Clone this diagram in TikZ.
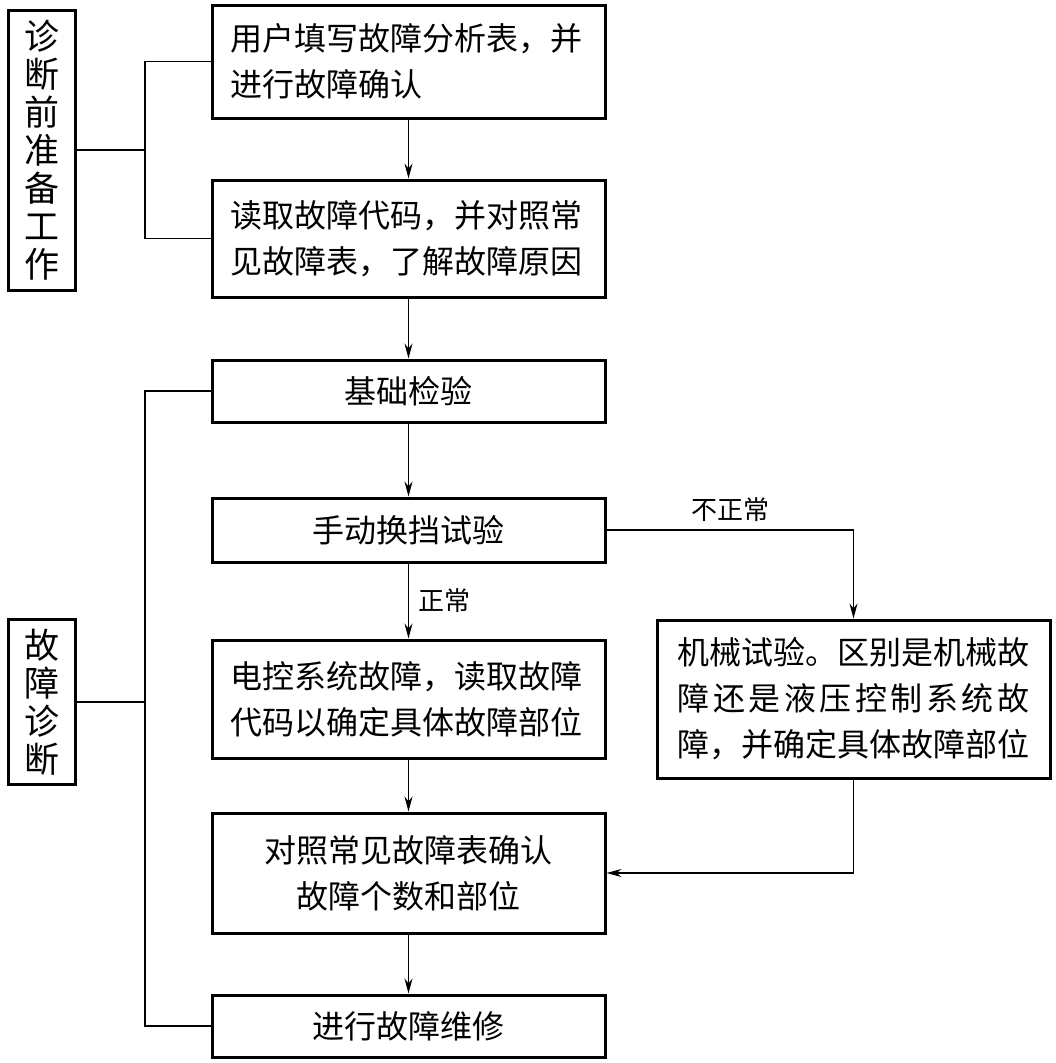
\documentclass[tikz,border=0pt]{standalone}
\usepackage{fontspec}
\setmainfont{Noto Sans CJK SC}
\usepackage{tikz}
\usetikzlibrary{arrows, arrows.meta, positioning}
\tikzstyle{arrow} = [line width=1.3pt,->,>={Stealth[length=15pt,width=8pt]}]

\begin{document}
\begin{tikzpicture}[x=1pt, y=-1pt,
				box/.style= {draw, line width=3pt, inner sep=0pt, minimum width=393pt, align=left, font={\fontsize{32}{46}\selectfont}},
				side/.style= {draw, line width=3pt, inner sep=0pt, minimum width=67pt, align=center, font={\fontsize{35}{38}\selectfont}},
				lab/.style= {font={\fontsize{26}{30}\selectfont}},
				link/.style= {line width=1.3pt}
			]
			\useasboundingbox (0,0) rectangle (1056,1063);
			% left column
			\node (pre) [side, minimum height=280pt] at (41.5,150) {诊\\断\\前\\准\\备\\工\\作};
			\node (diag) [side, minimum height=165pt] at (41.5,702) {故\\障\\诊\\断};
			
			% main column
			\node (b1) [box, minimum height=113pt, text width=357pt] at (408.5,61.5) {用户填写故障分析表，并\\进行故障确认};
			\node (b2) [box, minimum height=117pt, text width=357pt] at (408.5,238.5) {读取故障代码，并对照常\\见故障表，了解故障原因};
			\node (b3) [box, minimum height=62pt] at (408.5,391) {基础检验};
			\node (b4) [box, minimum height=64pt] at (408.5,530) {手动换挡试验};
			\node (b5) [box, minimum height=118pt, text width=357pt] at (408.5,699) {电控系统故障，读取故障\\代码以确定具体故障部位};
			\node (b6) [box, minimum height=120pt, align=center] at (408.5,873) {对照常见故障表确认\\故障个数和部位};
			\node (b7) [box, minimum height=62pt] at (408.5,1026) {进行故障维修};
			\node (mech) [box, minimum height=158pt, text width=352pt] at (853.5,699) {机械试验。区别是机械故\\\makebox[352pt][s]{障\hfil 还\hfil 是\hfil 液\hfil 压\hfil 控\hfil 制\hfil 系\hfil 统\hfil 故}\\障，并确定具体故障部位};
			
			% brackets
			\coordinate (j1) at (145,150);
			\coordinate (j2) at (145,702);
			\draw [link] (pre.east) -- (j1);
			\draw [link] (b1.west) -| (j1) |- (b2.west);
			\draw [link] (diag.east) -- (j2);
			\draw [link] (b3.west) -| (j2) |- (b7.west);
			
			% flow
			\draw [arrow] (b1) -- (b2);
			\draw [arrow] (b2) -- (b3);
			\draw [arrow] (b3) -- (b4);
			\draw [arrow] (b4) -- (b5) node [lab, midway, right=6pt] {正常};
			\draw [arrow] (b5) -- (b6);
			\draw [arrow] (b6) -- (b7);
			\draw [arrow] (b4.east) -| (mech.north) node [lab, pos=0.25, above=4pt] {不正常};
			\draw [arrow] (mech.south) |- (b6.east);
		\end{tikzpicture}
\end{document}
